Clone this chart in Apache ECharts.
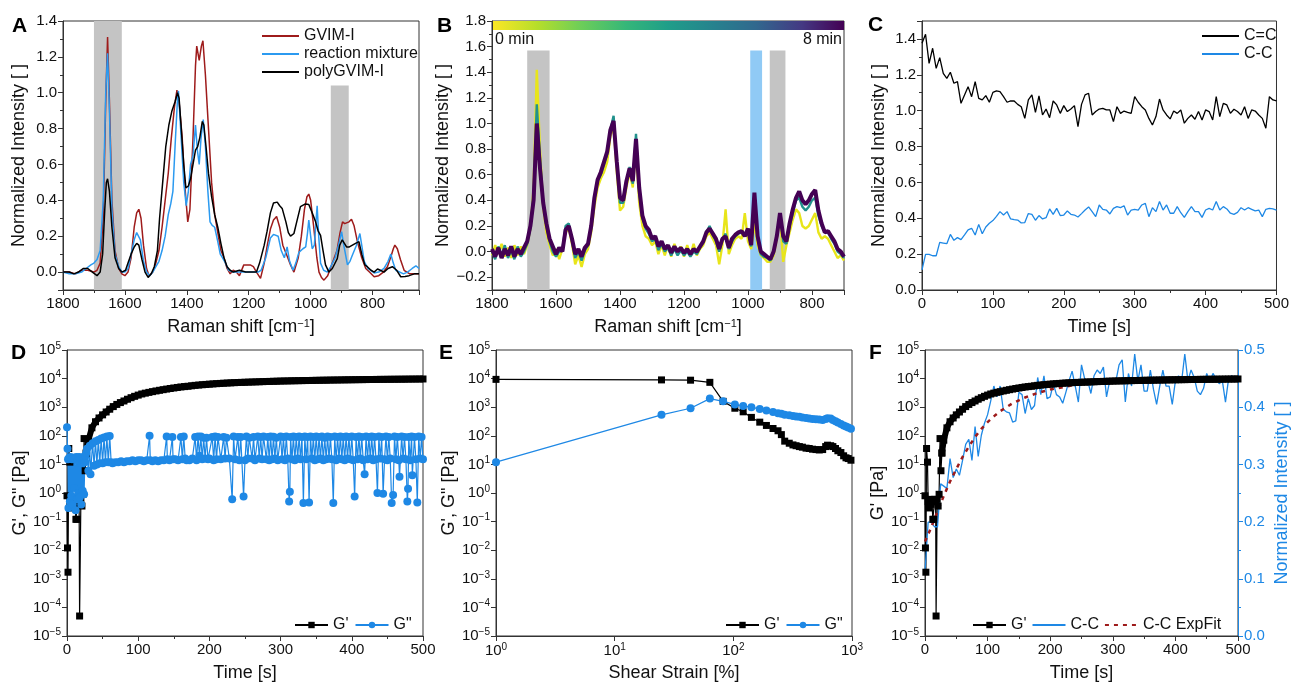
<!DOCTYPE html>
<html><head><meta charset="utf-8">
<script src="https://cdn.jsdelivr.net/npm/echarts@6/dist/echarts.min.js"></script>
<style>html,body{margin:0;padding:0;background:#fff}#c{width:1292px;height:683px}</style>
</head><body><div id="c"></div><script>
// ---------------- DATA ----------------
// Panel A: Raman spectra [shift, intensity]
const A_gvim = [[1800,0],[1780,0],[1760,-0.01],[1740,0.01],[1720,0.01],[1700,0],[1690,0.01],[1680,0.05],[1670,0.3],[1662,0.95],[1656,1.31],[1650,0.95],[1642,0.4],[1632,0.12],[1620,0.02],[1610,-0.01],[1600,-0.02],[1590,0],[1580,0.08],[1570,0.25],[1562,0.33],[1555,0.35],[1548,0.3],[1540,0.15],[1530,0.02],[1522,-0.02],[1510,0],[1500,0.05],[1490,0.12],[1480,0.25],[1470,0.4],[1460,0.55],[1450,0.75],[1440,0.92],[1432,1.015],[1425,0.95],[1415,0.75],[1405,0.45],[1397,0.28],[1390,0.35],[1380,0.75],[1372,1.15],[1368,1.26],[1360,1.18],[1353,1.26],[1348,1.29],[1340,1.1],[1330,0.8],[1320,0.5],[1310,0.32],[1300,0.22],[1290,0.12],[1280,0.08],[1270,0.02],[1260,-0.01],[1250,0.01],[1240,0],[1230,-0.02],[1216,0.04],[1205,0.04],[1195,0.04],[1185,0.03],[1175,0],[1162,-0.035],[1150,0.05],[1140,0.15],[1130,0.24],[1120,0.29],[1110,0.31],[1100,0.25],[1090,0.15],[1076,0.09],[1065,0.04],[1054,0],[1040,0.08],[1030,0.2],[1020,0.35],[1012,0.42],[1006,0.435],[1000,0.4],[990,0.25],[980,0.08],[973,0],[965,-0.03],[957,-0.045],[945,-0.02],[930,0.05],[915,0.12],[905,0.22],[897,0.28],[890,0.27],[884,0.26],[876,0.28],[868,0.295],[860,0.26],[849,0.17],[835,0.08],[822,0.02],[810,0],[795,-0.026],[780,-0.02],[765,0],[752,0.03],[740,0.09],[733,0.13],[728,0.15],[720,0.13],[710,0.07],[698,0.01],[680,-0.01],[665,-0.01],[650,-0.01]];
const A_mix = [[1800,0],[1780,-0.01],[1760,-0.01],[1740,0],[1725,0.02],[1710,0.04],[1700,0.05],[1690,0.07],[1680,0.12],[1670,0.4],[1662,1.0],[1656,1.22],[1650,0.9],[1642,0.35],[1632,0.1],[1620,0.03],[1610,0],[1600,0],[1590,0.02],[1580,0.1],[1570,0.18],[1562,0.22],[1557,0.23],[1550,0.18],[1540,0.06],[1530,0],[1520,-0.02],[1510,0],[1500,0.03],[1490,0.06],[1480,0.12],[1470,0.2],[1460,0.32],[1452,0.38],[1445,0.45],[1438,0.7],[1430,0.97],[1427,1.01],[1420,0.8],[1410,0.5],[1402,0.37],[1395,0.45],[1388,0.6],[1380,0.65],[1372,0.82],[1366,0.68],[1360,0.6],[1354,0.75],[1347,0.85],[1340,0.7],[1332,0.45],[1325,0.28],[1318,0.26],[1310,0.25],[1300,0.17],[1292,0.1],[1285,0.08],[1275,0.05],[1265,0.01],[1250,0],[1240,0],[1220,0],[1200,0],[1185,0],[1170,0],[1160,0.01],[1145,0.08],[1130,0.19],[1120,0.21],[1114,0.215],[1105,0.2],[1095,0.12],[1085,0.08],[1076,0.14],[1068,0.06],[1057,0.01],[1048,0.05],[1038,0.11],[1025,0.13],[1016,0.14],[1010,0.22],[1006,0.29],[1000,0.2],[995,0.13],[988,0.15],[982,0.3],[979,0.37],[974,0.2],[968,0.05],[958,0.01],[946,0],[935,0.03],[921,0.08],[910,0.15],[900,0.225],[893,0.15],[881,0.04],[873,0.06],[865,0.095],[852,0.15],[841,0.215],[835,0.15],[827,0.06],[815,0.02],[795,-0.005],[780,0],[763,0.02],[750,0.06],[741,0.1],[733,0.05],[725,0.01],[719,0],[700,-0.01],[687,0],[672,0.02],[660,0.035],[650,0.02]];
const A_poly = [[1800,0],[1780,0],[1765,-0.01],[1750,0],[1735,0.02],[1720,0.02],[1705,0],[1690,-0.02],[1680,0],[1672,0.1],[1665,0.35],[1660,0.5],[1656,0.52],[1650,0.45],[1642,0.25],[1632,0.08],[1620,0.02],[1610,0],[1598,0.01],[1590,0.05],[1580,0.1],[1570,0.14],[1562,0.16],[1555,0.15],[1545,0.07],[1535,0],[1525,-0.03],[1515,-0.01],[1505,0.03],[1495,0.12],[1488,0.3],[1478,0.5],[1468,0.7],[1458,0.82],[1448,0.9],[1438,0.95],[1430,1.0],[1425,0.97],[1418,0.8],[1410,0.6],[1403,0.47],[1395,0.48],[1388,0.52],[1380,0.6],[1372,0.68],[1365,0.7],[1358,0.75],[1350,0.84],[1345,0.82],[1338,0.7],[1330,0.55],[1320,0.42],[1310,0.32],[1300,0.25],[1290,0.16],[1280,0.08],[1270,0.03],[1260,0.01],[1250,0],[1230,0.01],[1210,0],[1190,0],[1175,0],[1165,0.05],[1150,0.15],[1141,0.225],[1130,0.33],[1120,0.385],[1108,0.39],[1100,0.37],[1092,0.355],[1080,0.28],[1072,0.22],[1065,0.2],[1054,0.215],[1045,0.28],[1033,0.365],[1017,0.38],[1006,0.377],[995,0.33],[984,0.28],[976,0.23],[968,0.205],[960,0.12],[952,0.04],[941,0],[930,0.02],[914,0.075],[906,0.15],[898,0.18],[891,0.16],[884,0.14],[875,0.14],[865,0.15],[855,0.16],[844,0.17],[835,0.1],[825,0.04],[817,0.03],[805,0.01],[795,0],[784,0.017],[775,0.01],[763,0],[750,0.02],[736,0.03],[722,0.01],[709,-0.026],[695,-0.025],[682,-0.02],[665,-0.01],[650,-0.01]];
const A_bands = [[1700,1610,1.4],[935,877,1.04]];

// Panel B: time-resolved spectra (0 min -> 8 min)
const B_shift = [1800,1790,1780,1770,1760,1750,1740,1730,1720,1710,1700,1690,1680,1670,1660,1650,1640,1630,1620,1610,1600,1590,1580,1570,1560,1550,1540,1530,1520,1510,1500,1490,1480,1470,1460,1450,1440,1430,1420,1410,1400,1390,1380,1370,1360,1350,1340,1330,1320,1310,1300,1290,1280,1270,1260,1250,1240,1230,1220,1210,1200,1190,1180,1170,1160,1150,1140,1130,1120,1110,1100,1090,1080,1070,1060,1050,1040,1030,1020,1010,1000,990,980,970,960,950,940,930,920,910,900,890,880,870,860,850,840,830,820,810,800,790,780,770,760,750,740,730,720,710,700];
const B_0min = [-0.03,0.05,-0.02,0.06,-0.04,0.03,-0.05,0.05,-0.03,0.04, -0.02,0.05,0.18,0.5,1.42,0.8,0.35,0.15,0.05,-0.03, 0.02,-0.06,0.02,0.15,0.18,0.06,-0.1,-0.03,-0.12,-0.02, 0.02,0.15,0.35,0.5,0.57,0.62,0.7,0.9,0.98,0.62, 0.32,0.35,0.5,0.62,0.5,0.8,0.38,0.2,0.12,0.1, 0.05,0.08,-0.02,0.05,-0.03,0.05,-0.04,0.06,-0.02,0.04, -0.04,0.05,-0.03,0.06,-0.03,0.02,0.05,0.12,0.15,0.1, 0.05,-0.1,0.05,0.33,-0.02,0.05,0.1,0.12,0.1,0.3, 0.08,0.02,0.22,0.05,-0.03,-0.05,-0.08,-0.08,-0.03,0.1, 0.28,-0.08,0.05,0.15,0.25,0.33,0.3,0.2,0.18,0.2, 0.25,0.3,0.15,0.1,0.12,0.1,0.05,0,-0.05,-0.03, -0.07];
const B_4min = [0,-0.06,0.04,-0.03,0.05,-0.05,0.01,-0.06,0.04,-0.04, 0,0.06,0.18,0.45,1.15,0.72,0.38,0.2,0.08,0, -0.04,0,0.02,0.2,0.22,0.08,-0.05,0,-0.07,0.01, 0.05,0.18,0.4,0.55,0.6,0.68,0.76,0.95,1.06,0.68, 0.38,0.38,0.53,0.66,0.53,0.92,0.46,0.26,0.18,0.14, 0.08,0.1,0.01,0.06,0,0.03,-0.03,0.02,-0.03,0.01, -0.03,0,-0.04,0,-0.02,0.03,0.07,0.15,0.2,0.13, 0.08,0,0.09,0.14,0.02,0.08,0.12,0.14,0.15,0.14, 0.16,0.04,0.38,0.1,-0.02,-0.04,-0.05,-0.07,-0.01,0.12, 0.3,0.08,0.06,0.2,0.3,0.4,0.42,0.35,0.32,0.35, 0.4,0.42,0.28,0.2,0.15,0.15,0.1,0.06,0,-0.02, -0.05];
const B_8min = [0.02,-0.04,0.03,-0.05,0.02,-0.03,0.04,-0.04,0.02,-0.02, 0.03,0.08,0.2,0.4,1.0,0.65,0.38,0.22,0.1,0.04, -0.02,0.03,0,0.17,0.2,0.1,-0.02,0.02,-0.04,0.03, 0.06,0.2,0.42,0.56,0.62,0.7,0.78,0.95,1.02,0.7, 0.42,0.4,0.55,0.65,0.55,0.88,0.5,0.28,0.2,0.17, 0.1,0.12,0.04,0.08,0.02,0.05,-0.01,0.04,0,0.03, -0.01,0.02,-0.02,0.02,0,0.04,0.08,0.15,0.18,0.14, 0.1,0.02,0.1,0.12,0.03,0.1,0.13,0.15,0.16,0.12, 0.18,0.05,0.46,0.12,0,-0.02,-0.04,-0.06,0,0.12, 0.3,0.12,0.08,0.22,0.33,0.42,0.47,0.4,0.37,0.4, 0.45,0.48,0.32,0.22,0.15,0.16,0.12,0.08,0.02,0, -0.04];
const B_grayBands = [[1690,1620,1.57],[932,883,1.57]];
const B_blueBands = [[993,956,1.57]];

// Panel C: band intensities vs time
const C_time = [0,5,10,15,20,25,30,35,40,45,50,55,60,65,70,75,80,85,90,95,100,105,110,115,120,125,130,135,140,145,150,155,160,165,170,175,180,185,190,195,200,205,210,215,220,225,230,235,240,245,250,255,260,265,270,275,280,285,290,295,300,305,310,315,320,325,330,335,340,345,350,355,360,365,370,375,380,385,390,395,400,405,410,415,420,425,430,435,440,445,450,455,460,465,470,475,480,485,490,495,500];
const C_double = [1.376,1.426,1.264,1.348,1.236,1.296,1.208,1.18,1.214,1.153, 1.162,1.041,1.088,1.134,1.078,1.162,1.069,1.06,1.084,1.047, 1.102,1.11,1.106,1.078,1.047,1.054,1.054,1.035,1.022,0.957, 1.06,1.088,0.991,1.082,0.976,1.009,0.961,1.054,1.032,0.985, 1.028,0.995,1.009,1.028,0.911,1.035,1.088,1.097,0.976,0.995, 1.009,1.013,1.004,1.004,0.939,1.022,0.985,0.998,0.991,0.985, 1.078,1.047,1.022,1.004,0.957,0.92,0.967,1.065,1.004,0.976, 0.954,0.998,0.985,1.004,0.93,0.957,0.976,0.952,0.995,0.948, 1.004,0.995,0.948,1.078,0.967,1.041,1.032,0.985,1.008,0.995, 0.976,1.022,0.957,1.004,0.998,0.976,0.957,0.902,1.078,1.06, 1.054];
const C_single = [0.112,0.199,0.199,0.191,0.191,0.266,0.262,0.258,0.31,0.277, 0.292,0.281,0.307,0.335,0.344,0.307,0.366,0.314,0.351,0.372, 0.387,0.411,0.437,0.418,0.437,0.396,0.392,0.39,0.374,0.376, 0.426,0.422,0.389,0.415,0.396,0.403,0.452,0.422,0.455,0.415, 0.418,0.441,0.422,0.418,0.407,0.426,0.446,0.463,0.437,0.409, 0.474,0.45,0.446,0.424,0.455,0.465,0.459,0.47,0.418,0.446, 0.45,0.446,0.474,0.483,0.409,0.459,0.437,0.493,0.446,0.474, 0.428,0.428,0.465,0.431,0.405,0.437,0.465,0.437,0.437,0.405, 0.446,0.455,0.446,0.493,0.446,0.465,0.452,0.428,0.422,0.433, 0.459,0.446,0.459,0.45,0.441,0.446,0.409,0.45,0.455,0.452, 0.446];

// Panel D / F: storage modulus G' and loss modulus G'' vs time [t, Pa]
const D_GpEarly = [[0,0.8],[0.7,0.012],[1.4,0.0017],[2.5,36],[4,12],[5,0.5],[6.5,0.3],[8,0.6],[9.5,0.4],[11,0.5],[12.5,0.12],[14,0.12],[15.5,0.6],[17,0.5],[17.7,0.00005],[19.5,0.6],[21,0.35],[22.5,0.9],[24,80],[25.5,6],[27,25]];
const D_GpLate = [[27,25],[30,70],[35,190],[40,310],[45,420],[50,540],[55,680],[60,850],[65,1050],[70,1250],[75,1450],[80,1650],[85,1900],[90,2150],[95,2400],[100,2650],[105,2900],[110,3100],[115,3300],[120,3500],[125,3700],[130,3900],[135,4100],[140,4300],[145,4500],[150,4700],[155,4900],[160,5100],[165,5250],[170,5400],[175,5600],[180,5800],[185,5950],[190,6100],[195,6250],[200,6400],[205,6520],[210,6650],[215,6780],[220,6900],[225,7000],[230,7100],[235,7200],[240,7300],[245,7380],[250,7450],[255,7530],[260,7600],[265,7680],[270,7750],[275,7830],[280,7900],[285,7980],[290,8050],[295,8120],[300,8200],[305,8250],[310,8300],[315,8350],[320,8400],[325,8450],[330,8500],[335,8550],[340,8600],[345,8650],[350,8700],[355,8750],[360,8800],[365,8840],[370,8880],[375,8920],[380,8950],[385,8990],[390,9030],[395,9060],[400,9100],[405,9140],[410,9180],[415,9210],[420,9250],[425,9290],[430,9320],[435,9360],[440,9400],[445,9420],[450,9450],[455,9480],[460,9500],[465,9530],[470,9550],[475,9580],[480,9600],[485,9630],[490,9650],[495,9680],[500,9700]];
const D_Gpp = [[0,200],[0.7,35],[1.4,15],[2,0.3],[3,17],[4,0.5],[5,18],[6,0.8],[7,15],[8,0.4],[9,17],[10,1.5],[11,16],[12,0.25],[13,18],[14,0.6],[15,14],[16,1.0],[17,18],[18,0.7],[19,16],[20,0.4],[21,17],[22,1.2],[23,18],[24,0.9],[25,12],[26,20],[27,25],[28,35],[30,6],[32,45],[33,4.5],[36,55],[38,9],[40,65],[42,10],[44,72],[46,11],[48,80],[50,11],[52,88],[54,12],[56,95],[58,12],[60,98],[62,12],[64,11],[68,12],[72,12],[76,13],[80,12],[84,13],[88,13],[92,14],[96,13],[100,14],[104,14],[108,13],[112,14],[116,100],[117,14],[120,13],[124,14],[128,13],[132,14],[136,14],[140,95],[141,15],[144,14],[148,90],[149,15],[152,15],[156,14],[160,90],[162,15],[164,95],[166,16],[168,14],[172,14],[176,16],[180,90],[182,14],[184,95],[186,20],[188,95],[190,15],[192,85],[194,16],[196,85],[198,15],[200,16],[204,90],[206,14],[208,95],[210,15],[212,90],[216,15],[220,90],[222,16],[224,85],[228,16],[232,0.6],[234,95],[236,15],[240,90],[242,14],[244,90],[248,0.75],[250,14],[252,95],[254,16],[256,85],[260,16],[262,90],[264,14],[268,95],[270,16],[272,90],[274,15],[276,95],[280,15],[282,90],[284,14],[286,95],[288,15],[290,92],[292,16],[294,85],[296,14],[300,95],[302,15],[304,90],[306,14],[308,95],[310,16],[312,0.5],[313,1.1],[314,90],[316,15],[318,95],[320,14],[322,90],[324,16],[326,95],[328,15],[330,90],[332,0.45],[334,95],[336,15],[338,90],[340,0.47],[342,95],[344,16],[346,90],[348,14],[350,95],[352,15],[354,90],[356,16],[358,95],[360,14],[362,85],[364,15],[366,95],[368,16],[370,90],[372,15],[374,0.45],[376,95],[378,14],[380,90],[382,16],[384,95],[386,15],[388,90],[390,14],[392,95],[394,16],[396,90],[398,15],[400,95],[402,14],[404,0.75],[406,90],[408,15],[410,95],[412,16],[414,90],[416,14],[418,4.5],[420,95],[422,15],[424,90],[426,16],[428,95],[430,14],[432,90],[434,15],[436,1.0],[438,95],[440,16],[442,90],[444,0.95],[446,15],[448,95],[450,14],[452,90],[454,16],[456,0.45],[458,0.85],[460,95],[462,15],[464,90],[466,14],[467,3.7],[470,95],[472,16],[474,90],[476,15],[478,0.5],[479,1.4],[480,90],[482,14],[484,95],[485,4.2],[488,90],[490,15],[492,0.47],[494,95],[496,16],[498,90],[500,15]];

// Panel E: amplitude sweep
const E_strain = [1,24.8,43.6,63.4,82,103,121,142,167,190,216,238,254,271,296,318,338,360,382,410,436,465,497,530,566,600,622,661,690,726,760,806,850,890,930,980];
const E_Gp = [9400,9000,8800,7400,1600,920,690,440,300,230,180,150,110,65,55,48,45,42,40,37,36,34,33,32,33,42,47,45,42,36,30,26,20,17,16,14];
const E_Gpp = [12,540,920,2000,1600,1250,1100,1000,860,760,680,620,590,550,520,490,470,460,440,420,400,390,380,370,360,390,410,400,360,320,290,260,230,210,195,175];

// Panel F: exponential fit of C-C intensity
const F_fitTime = [0,10,20,30,40,50,60,70,80,90,100,110,120,130,140,150,160,170,180,190,200,210,220,230,240,250,260,270,280,290,300,310,320,330,340,350,360,370,380,390,400,410,420,430,440,450,460,470,480,490,500];
const F_fit = [0.165,0.19,0.218,0.245,0.27,0.292,0.313,0.331,0.348,0.362,0.374,0.384,0.393,0.4,0.407,0.412,0.417,0.421,0.425,0.428,0.431,0.433,0.435,0.437,0.439,0.44,0.441,0.442,0.443,0.444,0.445,0.445,0.446,0.446,0.447,0.447,0.447,0.448,0.448,0.448,0.448,0.448,0.449,0.449,0.449,0.449,0.449,0.449,0.449,0.449,0.449];

// ---------------- STYLE ----------------
const FONT = 'Liberation Sans, Arial, sans-serif';
const TXT = '#111';
const AX = '#333';
const BLUE = '#1e88e5';
const RED = '#9e1b1b';
const zip = (xs, ys) => xs.map((x, i) => [x, ys[i]]);
const fmt1 = v => (v < 0 ? '\u2212' : '') + Math.abs(v).toFixed(1);
const plain = v => String(v);
const supRich = {
  b: { fontSize: 15, fontFamily: FONT, color: TXT, lineHeight: 18 },
  s: { fontSize: 10, fontFamily: FONT, color: TXT, lineHeight: 11, verticalAlign: 'top' }
};
const logLab = v => { const e = Math.round(Math.log10(v)); return '{b|10}{s|' + (e < 0 ? '\u2212' + (-e) : e) + '}'; };

function axis(gi, o) {
  const base = {
    gridIndex: gi, type: 'value',
    axisLine: { show: true, onZero: false, lineStyle: { color: AX, width: 1 } },
    axisTick: { show: true, inside: false, length: 5, lineStyle: { color: AX } },
    minorTick: { show: true, splitNumber: 2, length: 3, lineStyle: { color: AX } },
    splitLine: { show: false },
    axisLabel: { color: TXT, fontSize: 15, fontFamily: FONT, margin: 6, formatter: plain },
    nameLocation: 'middle',
    nameTextStyle: { color: TXT, fontSize: 18, fontFamily: FONT }
  };
  for (const k in o) {
    if (base[k] && typeof base[k] === 'object' && typeof o[k] === 'object' && !Array.isArray(o[k])) base[k] = Object.assign({}, base[k], o[k]);
    else base[k] = o[k];
  }
  return base;
}
function logAxis(gi, min, max, o) {
  return axis(gi, Object.assign({
    type: 'log', logBase: 10, min: min, max: max, interval: 1,
    minorTick: { show: false },
    axisLabel: { formatter: logLab, rich: supRich }
  }, o));
}
const grid = (l, t, w, h) => ({ left: l, top: t, width: w, height: h, show: true, borderColor: AX, borderWidth: 1, backgroundColor: 'transparent' });
const bandArea = (bands, ymin, color) => ({
  silent: true, itemStyle: { color: color }, z: 0,
  data: bands.map(b => [{ xAxis: b[0], yAxis: ymin }, { xAxis: b[1], yAxis: b[2] }])
});
const legendText = { fontSize: 16, fontFamily: FONT, color: TXT };
const noSym = { color: 'rgba(0,0,0,0)', borderColor: 'rgba(0,0,0,0)', borderWidth: 0 };
const supName = { sup: { fontSize: 11, fontFamily: FONT, color: TXT, verticalAlign: 'top', lineHeight: 12 } };

const option = {
  animation: false,
  backgroundColor: '#fff',
  grid: [
    grid(63, 21, 356, 269), grid(492, 21, 352, 269), grid(922, 21, 356, 269),
    grid(67, 350, 356, 286), grid(496, 350, 356, 286), grid(925, 350, 313, 286)
  ],
  xAxis: [
    axis(0, { min: 650, max: 1800, inverse: true, name: 'Raman shift [cm{sup|\u22121}]', nameGap: 28,
      axisLabel: { showMinLabel: false }, nameTextStyle: { rich: supName } }),
    axis(1, { min: 700, max: 1800, inverse: true, name: 'Raman shift [cm{sup|\u22121}]', nameGap: 28,
      axisLabel: { showMinLabel: false }, nameTextStyle: { rich: supName } }),
    axis(2, { min: 0, max: 500, interval: 100, name: 'Time [s]', nameGap: 28 }),
    axis(3, { min: 0, max: 500, interval: 100, name: 'Time [s]', nameGap: 28 }),
    logAxis(4, 1, 1000, { name: 'Shear Strain [%]', nameGap: 28 }),
    axis(5, { min: 0, max: 500, interval: 100, name: 'Time [s]', nameGap: 28 })
  ],
  yAxis: [
    axis(0, { min: -0.1, max: 1.4, splitNumber: 7, name: 'Normalized Intensity [ ]', nameGap: 35,
      axisLabel: { formatter: fmt1, showMinLabel: false } }),
    axis(1, { min: -0.3, max: 1.8, splitNumber: 10, name: 'Normalized Intensity [ ]', nameGap: 36,
      axisLabel: { formatter: fmt1, showMinLabel: false } }),
    axis(2, { min: 0, max: 1.5, interval: 0.2, name: 'Normalized Intensity [ ]', nameGap: 34,
      axisLabel: { formatter: fmt1, showMaxLabel: false } }),
    logAxis(3, 1e-5, 1e5, { name: 'G\', G" [Pa]', nameGap: 36 }),
    logAxis(4, 1e-5, 1e5, { name: 'G\', G" [Pa]', nameGap: 36 }),
    logAxis(5, 1e-5, 1e5, { name: 'G\' [Pa]', nameGap: 36 }),
    axis(5, { position: 'right', min: 0, max: 0.5, interval: 0.1, name: 'Normalized Intensity [ ]', nameGap: 35, nameRotate: 90,
      axisLine: { lineStyle: { color: BLUE } }, axisTick: { lineStyle: { color: BLUE } }, minorTick: { lineStyle: { color: BLUE } },
      axisLabel: { color: BLUE, formatter: fmt1 }, nameTextStyle: { color: BLUE } })
  ],
  legend: [
    { data: ['GVIM-I', 'reaction mixture', 'polyGVIM-I'], left: 256, top: 23, orient: 'vertical', itemWidth: 37, itemHeight: 10, itemGap: 2, itemStyle: noSym, textStyle: legendText, selectedMode: false },
    { data: ['C=C', 'C-C'], left: 1196, top: 23, orient: 'vertical', itemWidth: 37, itemHeight: 10, itemGap: 2, itemStyle: noSym, textStyle: legendText, selectedMode: false },
    { data: ["G'", 'G"'], left: 289, top: 612, itemWidth: 33, itemHeight: 8, itemGap: 6, textStyle: legendText, selectedMode: false },
    { data: ["G'", 'G"'], left: 720, top: 612, itemWidth: 33, itemHeight: 8, itemGap: 6, textStyle: legendText, selectedMode: false },
    { data: ["G'", { name: 'C-C', itemStyle: noSym }, { name: 'C-C ExpFit', itemStyle: noSym }], left: 967, top: 612, itemWidth: 33, itemHeight: 8, itemGap: 5, textStyle: legendText, selectedMode: false }
  ],
  series: [
    // A
    { type: 'line', name: 'GVIM-I', xAxisIndex: 0, yAxisIndex: 0, data: A_gvim, symbol: 'none', lineStyle: { color: RED, width: 1.5 }, itemStyle: { color: RED }, markArea: bandArea(A_bands, -0.1, '#c4c4c4') },
    { type: 'line', name: 'reaction mixture', xAxisIndex: 0, yAxisIndex: 0, data: A_mix, symbol: 'none', lineStyle: { color: '#2b9af0', width: 1.5 }, itemStyle: { color: '#2b9af0' } },
    { type: 'line', name: 'polyGVIM-I', xAxisIndex: 0, yAxisIndex: 0, data: A_poly, symbol: 'none', lineStyle: { color: '#000', width: 1.5 }, itemStyle: { color: '#000' } },
    // B
    { type: 'line', name: '0 min', xAxisIndex: 1, yAxisIndex: 1, data: zip(B_shift, B_0min), symbol: 'none', lineStyle: { color: '#e8e51a', width: 2.4 },
      markArea: { silent: true, z: 0, data: B_grayBands.map(b => [{ xAxis: b[0], yAxis: -0.3, itemStyle: { color: '#c4c4c4' } }, { xAxis: b[1], yAxis: b[2] }]).concat(B_blueBands.map(b => [{ xAxis: b[0], yAxis: -0.3, itemStyle: { color: '#90caf5' } }, { xAxis: b[1], yAxis: b[2] }])) } },
    { type: 'line', name: '4 min', xAxisIndex: 1, yAxisIndex: 1, data: zip(B_shift, B_4min), symbol: 'none', lineStyle: { color: '#21918c', width: 2.4 } },
    { type: 'line', name: '8 min', xAxisIndex: 1, yAxisIndex: 1, data: zip(B_shift, B_8min), symbol: 'none', lineStyle: { color: '#440154', width: 4 } },
    // C
    { type: 'line', name: 'C=C', xAxisIndex: 2, yAxisIndex: 2, data: zip(C_time, C_double), symbol: 'none', lineStyle: { color: '#000', width: 1.3 }, itemStyle: { color: '#000' } },
    { type: 'line', name: 'C-C', xAxisIndex: 2, yAxisIndex: 2, data: zip(C_time, C_single), symbol: 'none', lineStyle: { color: BLUE, width: 1.3 }, itemStyle: { color: BLUE } },
    // D
    { type: 'line', name: "G'", xAxisIndex: 3, yAxisIndex: 3, data: D_GpEarly, symbol: 'rect', symbolSize: 7, showAllSymbol: true, lineStyle: { color: '#000', width: 1.2 }, itemStyle: { color: '#000' } },
    { type: 'line', name: "G'", xAxisIndex: 3, yAxisIndex: 3, data: D_GpLate, symbol: 'rect', symbolSize: 7, showAllSymbol: true, lineStyle: { color: '#000', width: 6 }, itemStyle: { color: '#000' } },
    { type: 'line', name: 'G"', xAxisIndex: 3, yAxisIndex: 3, data: D_Gpp, symbol: 'circle', symbolSize: 8, showAllSymbol: true, lineStyle: { color: BLUE, width: 1.2 }, itemStyle: { color: BLUE } },
    // E
    { type: 'line', name: "G'", xAxisIndex: 4, yAxisIndex: 4, data: zip(E_strain, E_Gp), symbol: 'rect', symbolSize: 7, showAllSymbol: true, lineStyle: { color: '#000', width: 1.2 }, itemStyle: { color: '#000' } },
    { type: 'line', name: 'G"', xAxisIndex: 4, yAxisIndex: 4, data: zip(E_strain, E_Gpp), symbol: 'circle', symbolSize: 8, showAllSymbol: true, lineStyle: { color: BLUE, width: 1.2 }, itemStyle: { color: BLUE } },
    // F
    { type: 'line', name: "G'", xAxisIndex: 5, yAxisIndex: 5, data: D_GpEarly, symbol: 'rect', symbolSize: 7, showAllSymbol: true, lineStyle: { color: '#000', width: 1.2 }, itemStyle: { color: '#000' } },
    { type: 'line', name: "G'", xAxisIndex: 5, yAxisIndex: 5, data: D_GpLate, symbol: 'rect', symbolSize: 7, showAllSymbol: true, lineStyle: { color: '#000', width: 6 }, itemStyle: { color: '#000' } },
    { type: 'line', name: 'C-C', xAxisIndex: 5, yAxisIndex: 6, data: zip(C_time, C_single), symbol: 'none', lineStyle: { color: BLUE, width: 1.3 }, itemStyle: { color: BLUE } },
    { type: 'line', name: 'C-C ExpFit', xAxisIndex: 5, yAxisIndex: 6, data: zip(F_fitTime, F_fit), symbol: 'none', lineStyle: { color: RED, width: 2.5, type: [4, 5] }, itemStyle: { color: RED } }
  ],
  graphic: [
    { type: 'text', left: 12, top: 16, style: { text: 'A', font: 'bold 21px ' + FONT, fill: '#000' } },
    { type: 'text', left: 437, top: 16, style: { text: 'B', font: 'bold 21px ' + FONT, fill: '#000' } },
    { type: 'text', left: 868, top: 15, style: { text: 'C', font: 'bold 21px ' + FONT, fill: '#000' } },
    { type: 'text', left: 11, top: 343, style: { text: 'D', font: 'bold 21px ' + FONT, fill: '#000' } },
    { type: 'text', left: 439, top: 343, style: { text: 'E', font: 'bold 21px ' + FONT, fill: '#000' } },
    { type: 'text', left: 869, top: 343, style: { text: 'F', font: 'bold 21px ' + FONT, fill: '#000' } },
    { type: 'rect', shape: { x: 492, y: 21, width: 352, height: 9 }, style: { fill: { type: 'linear', x: 0, y: 0, x2: 1, y2: 0, colorStops: [
      { offset: 0, color: '#fde725' }, { offset: 0.13, color: '#b5de2b' }, { offset: 0.25, color: '#6ece58' }, { offset: 0.38, color: '#35b779' },
      { offset: 0.5, color: '#1f9e89' }, { offset: 0.63, color: '#26828e' }, { offset: 0.75, color: '#31688e' }, { offset: 0.88, color: '#443983' }, { offset: 1, color: '#440154' } ] } } },
    { type: 'text', left: 495, top: 32, style: { text: '0 min', font: '16px ' + FONT, fill: TXT } },
    { type: 'text', right: 450, top: 32, style: { text: '8 min', font: '16px ' + FONT, fill: TXT } }
  ]
};
const chart = echarts.init(document.getElementById('c'), null, { renderer: 'canvas' });
chart.setOption(option);
</script></body></html>
